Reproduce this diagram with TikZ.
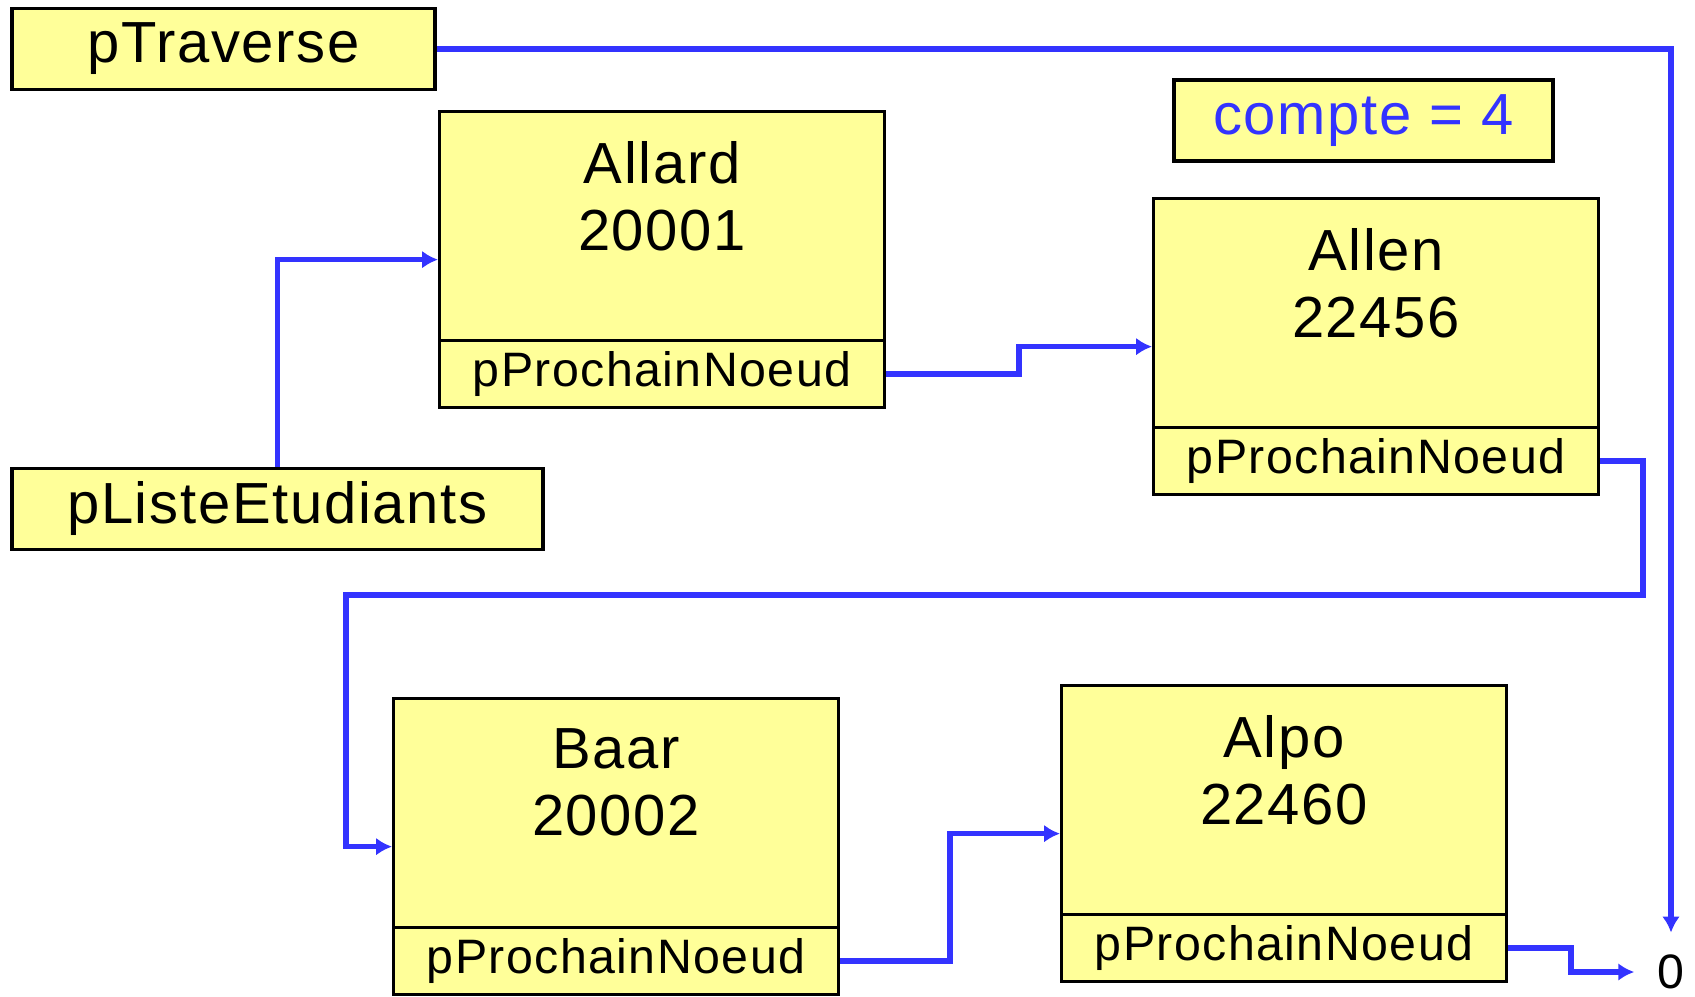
\documentclass[tikz,border=0pt]{standalone}
\usepackage{fontspec}
\setmainfont[LetterSpace=3]{Liberation Sans}
\usetikzlibrary{calc}
\usetikzlibrary{arrows.meta}

\definecolor{boxyellow}{RGB}{255,255,153}
\definecolor{linkblue}{RGB}{51,51,255}

\begin{document}
\begin{tikzpicture}[
      x=0.02cm, y=-0.02cm,
      big/.style={font=\fontsize{33}{38}\selectfont},
      small/.style={font=\fontsize{27.5}{32}\selectfont},
      var/.style={draw, fill=boxyellow, line width=1.9pt, big, inner sep=0pt, minimum height=1.62cm},
      record/.style={draw, fill=boxyellow, line width=1.9pt, minimum width=8.9cm, minimum height=5.92cm, inner sep=0pt, anchor=north west},
      field/.style={draw, fill=boxyellow, line width=1.9pt, minimum width=8.9cm, minimum height=1.34cm, inner sep=0pt, small, anchor=south},
      link/.style={draw=linkblue, line width=3.2pt, -{Latex[length=9pt,width=10pt]}},
      ]
        \useasboundingbox (0,0) rectangle (1695,997);

        \node[var, minimum width=8.46cm] (ptraverse) at (223.5,49) {pTraverse};
        \node[var, minimum width=10.62cm] (pliste) at (277.5,509) {pListeEtudiants};
        \node[var, minimum width=7.58cm, text=linkblue] (compte) at (1363.5,120.5) {compte = 4};

        \foreach \name/\nom/\num/\x/\y in {allard/Allard/20001/438/110, allen/Allen/22456/1152/197,
                                           baar/Baar/20002/392/697, alpo/Alpo/22460/1060/684} {
          \node[record] (\name) at (\x,\y) {};
          \node[field] (\name-ptr) at (\name.south) {pProchainNoeud};
          \node[big, align=center, inner sep=0pt, anchor=north] (\name-data) at ([yshift=-0.62cm]\name.north) {\nom\\\num};
        }

        \node[small, inner sep=0pt] (zero) at (1671,972) {0};

        \draw[link, shorten >=0.44cm] (ptraverse.east) -| (zero.north);
        \draw[link] (pliste.north) |- (allard.west);
        \draw[link] (allard-ptr.east) -| ($(allard-ptr.east)!0.5!(allen.west)$) |- (allen.west);
        \draw[link] (allen-ptr.east) -- ++(43,0) -- ++(0,134) -| ([xshift=-0.92cm]baar.west) -- (baar.west);
        \draw[link] (baar-ptr.east) -| ($(baar-ptr.east)!0.5!(alpo.west)$) |- (alpo.west);
        \draw[link, shorten >=0.46cm] (alpo-ptr.east) -| ($(alpo-ptr.east)!0.42!(zero.west)$) |- (zero.west);

        \end{tikzpicture}
\end{document}
